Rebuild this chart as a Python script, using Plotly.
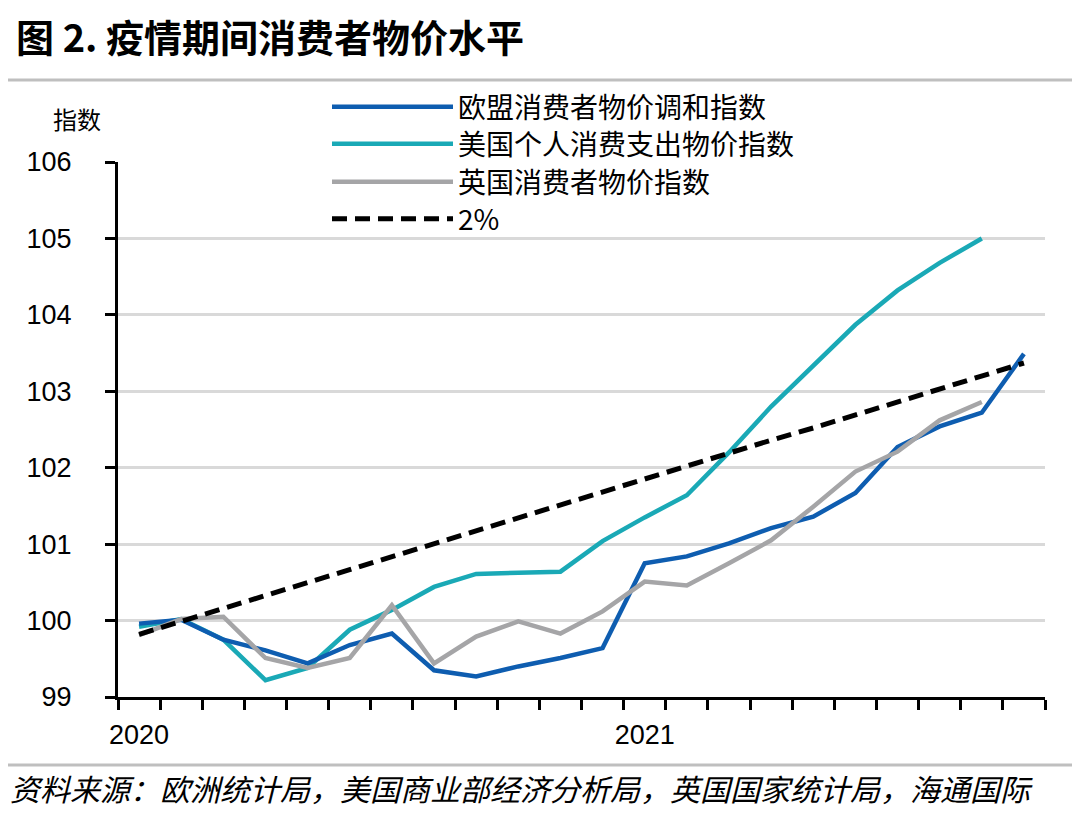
import plotly.graph_objects as go

months = ["2020-01", "2020-02", "2020-03", "2020-04", "2020-05", "2020-06",
          "2020-07", "2020-08", "2020-09", "2020-10", "2020-11", "2020-12",
          "2021-01", "2021-02", "2021-03", "2021-04", "2021-05", "2021-06",
          "2021-07", "2021-08", "2021-09", "2021-10"]

eu_hicp = [99.96, 100.01, 99.75, 99.61, 99.44, 99.68, 99.83, 99.35, 99.27, 99.40, 99.51,
           99.64, 100.75, 100.84, 101.01, 101.21, 101.36, 101.67, 102.27, 102.54, 102.72, 103.49]
us_pce = [99.92, 100.02, 99.75, 99.22, 99.38, 99.88, 100.14, 100.44, 100.61, 100.63, 100.64,
          101.04, 101.35, 101.64, 102.20, 102.80, 103.34, 103.87, 104.32, 104.68, 105.00, None]
uk_cpi = [99.81, 100.02, 100.05, 99.51, 99.38, 99.51, 100.20, 99.44, 99.79, 99.99, 99.83,
          100.12, 100.51, 100.46, 100.75, 101.05, 101.49, 101.95, 102.21, 102.62, 102.86, None]
target_2pct = [99.82, 99.99, 100.16, 100.33, 100.50, 100.66, 100.83, 101.00, 101.17, 101.34, 101.51,
               101.68, 101.85, 102.02, 102.19, 102.36, 102.52, 102.69, 102.86, 103.03, 103.20, 103.37]

names = ["欧盟消费者物价调和指数", "美国个人消费支出物价指数", "英国消费者物价指数", "2%"]
y_ticks = [99, 100, 101, 102, 103, 104, 105, 106]

title = "<b>图 2. 疫情期间消费者物价水平</b>"
source = "资料来源：欧洲统计局，美国商业部经济分析局，英国国家统计局，海通国际"
y_title = "指数"

x = list(range(len(months)))
year_idx = [i for i, m in enumerate(months) if m.endswith("-01")]
year_txt = [months[i][:4] for i in year_idx]

CJK = "Noto Sans CJK SC"
LAT = "Liberation Sans"

W, H = 1080, 817
OFF = 8  # page offset of the figure
L, R, T, B = 118 - OFF, 1045 - OFF, 162 - OFF, 697 - OFF


def px(xp):
    return (xp - OFF - L) / (R - L)


def py(yp):
    return (B - (yp - OFF)) / (B - T)


fig = go.Figure()
fig.add_trace(go.Scatter(x=x, y=us_pce, name=names[1], mode="lines", legend="legend2",
                         line=dict(color="#1aa9b6", width=4.5)))
fig.add_trace(go.Scatter(x=x, y=eu_hicp, name=names[0], mode="lines", legend="legend",
                         line=dict(color="#0e5db0", width=4.5)))
fig.add_trace(go.Scatter(x=x, y=uk_cpi, name=names[2], mode="lines", legend="legend3",
                         line=dict(color="#a5a5a7", width=4.5)))
fig.add_trace(go.Scatter(x=x, y=target_2pct, name=names[3], mode="lines", legend="legend4",
                         line=dict(color="black", width=5, dash="15px,8px")))


def leg(row_y):
    return dict(x=px(327), y=py(row_y), xanchor="left", yanchor="middle",
                bgcolor="rgba(0,0,0,0)", font=dict(family=CJK, size=28, color="black"),
                itemwidth=121, tracegroupgap=0)


fig.update_layout(
    width=W, height=H,
    margin=dict(l=L, r=W - R, t=T, b=H - B),
    plot_bgcolor="white", paper_bgcolor="white",
    showlegend=True,
    hovermode=False,
    legend=leg(107), legend2=leg(144), legend3=leg(182), legend4=leg(219),
    xaxis=dict(range=[-0.5, len(months) - 0.5], showgrid=False, zeroline=False,
               showline=True, linecolor="black", linewidth=3,
               tickmode="array", tickvals=year_idx, ticktext=year_txt, ticks="",
               tickfont=dict(family=LAT, size=27, color="black"), ticklabelstandoff=12,
               minor=dict(tickmode="array", tickvals=[i - 0.5 for i in range(len(months) + 1)],
                          ticks="outside", ticklen=10, tickwidth=3, tickcolor="black",
                          showgrid=False)),
    yaxis=dict(range=[99, 106], tickmode="array", tickvals=y_ticks,
               showgrid=True, gridcolor="#d9d9d9", gridwidth=3, zeroline=False,
               showline=True, linecolor="black", linewidth=3,
               ticks="outside", ticklen=10, tickwidth=3, tickcolor="black",
               tickfont=dict(family=LAT, size=27, color="black"), ticklabelstandoff=28),
    annotations=[
        dict(text=title, xref="paper", yref="paper", x=px(14), y=py(35), xanchor="left",
             yanchor="middle", showarrow=False, font=dict(family=CJK, size=38, color="black")),
        dict(text=y_title, xref="paper", yref="paper", x=px(77), y=py(119), xanchor="center",
             yanchor="middle", showarrow=False, font=dict(family=CJK, size=24, color="black")),
        dict(text=source, xref="paper", yref="paper", x=px(8), y=py(788), xanchor="left",
             yanchor="middle", showarrow=False,
             font=dict(family=CJK, size=30, color="black", style="italic")),
    ],
    shapes=[
        dict(type="line", xref="paper", yref="paper", x0=px(8), x1=px(1080), y0=py(80), y1=py(80),
             line=dict(color="#bfbfbf", width=3)),
        dict(type="line", xref="paper", yref="paper", x0=px(6), x1=px(1076), y0=py(765), y1=py(765),
             line=dict(color="#bfbfbf", width=3)),
    ],
)

fig.write_html("out.html")
